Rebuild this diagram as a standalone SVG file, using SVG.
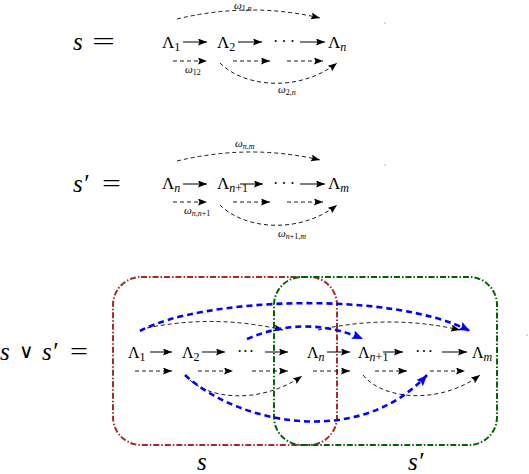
<svg xmlns="http://www.w3.org/2000/svg" width="529" height="474" viewBox="0 0 529 474">
<style>
.big{font-family:"Liberation Serif","DejaVu Serif",serif;font-size:25px;fill:#000}
.it{font-style:italic}
.vee{font-family:"DejaVu Sans","Liberation Sans",sans-serif;font-weight:200;font-size:20px;fill:#000}
.lam{font-family:"Liberation Serif","DejaVu Serif",serif;font-size:17px;fill:#000}
.lam3{font-family:"Liberation Serif","DejaVu Serif",serif;font-size:16px;fill:#000}
.sub{font-size:12px}
.w{font-family:"Liberation Serif","DejaVu Serif",serif;font-size:11px;font-style:italic;fill:#000}
.ws{font-size:8px;font-style:normal}
.dots{font-family:"Liberation Serif","DejaVu Serif",serif;font-size:16px;fill:#000}
.sol{fill:none;stroke:#000;stroke-width:1;marker-end:url(#ah)}
.dsh{fill:none;stroke:#000;stroke-width:0.9;stroke-dasharray:4 3;marker-end:url(#ah)}
.blu{fill:none;stroke:#0000ff;stroke-width:2.6;stroke-dasharray:6 4;marker-end:url(#bh)}
.red{fill:none;stroke:#a52a2a;stroke-width:2;stroke-dasharray:6 2 1.5 2}
.grn{fill:none;stroke:#006400;stroke-width:2;stroke-dasharray:6 2 1.5 2}
</style>
<defs>
<marker id="ah" markerUnits="userSpaceOnUse" markerWidth="11" markerHeight="8" refX="9" refY="3.5" orient="auto"><path d="M0,0 L9,3.5 L0,7 L1.5,3.5 z" fill="#000"/></marker>
<marker id="bh" markerUnits="userSpaceOnUse" markerWidth="13" markerHeight="10" refX="11" refY="4.5" orient="auto"><path d="M0,0 L11,4.5 L0,9 L2,4.5 z" fill="#0000ff"/></marker>
</defs>

<g id="row1">
<text class="big it" x="73" y="50">s</text>
<text class="big" x="92" y="50" textLength="23" lengthAdjust="spacingAndGlyphs">=</text>
<g id="r1-L1"><text class="lam" x="162" y="48">Λ<tspan class="sub" dy="3">1</tspan></text></g>
<g id="r1-L2"><text class="lam" x="217" y="48">Λ<tspan class="sub" dy="3">2</tspan></text></g>
<g id="r1-dots"><text class="dots" x="273" y="47" textLength="22" lengthAdjust="spacing">· · ·</text></g>
<g id="r1-Ln"><text class="lam" x="328" y="48">Λ<tspan class="sub it" dy="3">n</tspan></text></g>
<text class="w" x="234" y="9">ω<tspan class="ws" dy="2">1,<tspan class="it">n</tspan></tspan></text>
<text class="w" x="185" y="73">ω<tspan class="ws" dy="2">12</tspan></text>
<text class="w" x="278" y="93">ω<tspan class="ws" dy="2">2,<tspan class="it">n</tspan></tspan></text>
<circle cx="385" cy="23" r="0.6" fill="#666"/>
</g>

<g id="row2">
<text class="big it" x="73" y="192">s′</text>
<text class="big" x="102" y="192" textLength="19" lengthAdjust="spacingAndGlyphs">=</text>
<g id="r2-Ln"><text class="lam" x="162" y="189">Λ<tspan class="sub it" dy="3">n</tspan></text></g>
<g id="r2-Ln1"><text class="lam" x="217" y="189">Λ<tspan class="sub" dy="3"><tspan class="it">n</tspan>+1</tspan></text></g>
<g id="r2-dots"><text class="dots" x="273" y="189" textLength="22" lengthAdjust="spacing">· · ·</text></g>
<g id="r2-Lm"><text class="lam" x="328" y="189">Λ<tspan class="sub it" dy="3">m</tspan></text></g>
<text class="w" x="235" y="147">ω<tspan class="ws" dy="2"><tspan class="it">n</tspan>,<tspan class="it">m</tspan></tspan></text>
<text class="w" x="184" y="214">ω<tspan class="ws" dy="2"><tspan class="it">n</tspan>,<tspan class="it">n</tspan>+1</tspan></text>
<text class="w" x="278" y="237">ω<tspan class="ws" dy="2"><tspan class="it">n</tspan>+1,<tspan class="it">m</tspan></tspan></text>
<circle cx="385" cy="165" r="0.6" fill="#666"/>
</g>

<g id="boxes">
<rect id="box-s" class="red" x="113" y="277" width="224" height="168" rx="28" ry="28"/>
<rect id="box-s2" class="grn" x="274" y="277" width="223" height="168" rx="28" ry="28"/>
</g>

<g id="row3">
<text class="big it" x="0" y="360">s</text>
<text class="vee" x="19" y="358">∨</text>
<text class="big it" x="42" y="360">s′</text>
<text class="big" x="70" y="360" textLength="18" lengthAdjust="spacingAndGlyphs">=</text>
<g id="r3-L1"><text class="lam3" x="128" y="358">Λ<tspan class="sub" dy="3">1</tspan></text></g>
<g id="r3-L2"><text class="lam3" x="182" y="358">Λ<tspan class="sub" dy="3">2</tspan></text></g>
<g id="r3-dots1"><text class="dots" x="237" y="357" textLength="17" lengthAdjust="spacing">· · ·</text></g>
<g id="r3-Ln"><text class="lam3" x="307" y="358">Λ<tspan class="sub it" dy="3">n</tspan></text></g>
<g id="r3-Ln1"><text class="lam3" x="358" y="358">Λ<tspan class="sub" dy="3"><tspan class="it">n</tspan>+1</tspan></text></g>
<g id="r3-dots2"><text class="dots" x="415" y="357" textLength="18" lengthAdjust="spacing">· · ·</text></g>
<g id="r3-Lm"><text class="lam3" x="472" y="358">Λ<tspan class="sub it" dy="3">m</tspan></text></g>
<text class="big it" x="197" y="470">s</text>
<text class="big it" x="408" y="470">s′</text>
<circle cx="527" cy="335" r="0.6" fill="#666"/>
</g>

<g id="connectors">
<line class="sol" x1="183" y1="42" x2="207" y2="42"/>
<line class="sol" x1="238" y1="42" x2="262" y2="42"/>
<line class="sol" x1="300" y1="42" x2="325" y2="42"/>
<line class="dsh" x1="173" y1="61" x2="207" y2="61"/>
<line class="dsh" x1="233" y1="61" x2="270" y2="61"/>
<line class="dsh" x1="287" y1="61" x2="323" y2="61"/>
<path class="dsh" d="M177,19 Q250,1.5 320,18"/>
<path class="dsh" d="M220,63 C245,88 300,92 337,63"/>
<line class="sol" x1="183" y1="184" x2="207" y2="184"/>
<line class="sol" x1="240" y1="184" x2="263" y2="184"/>
<line class="sol" x1="300" y1="184" x2="325" y2="184"/>
<line class="dsh" x1="173" y1="202" x2="207" y2="202"/>
<line class="dsh" x1="233" y1="202" x2="270" y2="202"/>
<line class="dsh" x1="287" y1="202" x2="323" y2="202"/>
<path class="dsh" d="M177,161 Q250,143.5 320,160"/>
<path class="dsh" d="M220,205 C245,230 300,234 337,205"/>
<line class="sol" x1="150" y1="352" x2="172" y2="352"/>
<line class="sol" x1="202" y1="352" x2="225" y2="352"/>
<line class="sol" x1="265" y1="352" x2="288" y2="352"/>
<line class="sol" x1="327" y1="352" x2="350" y2="352"/>
<line class="sol" x1="383" y1="352" x2="403" y2="352"/>
<line class="sol" x1="442" y1="352" x2="467" y2="352"/>
<line class="dsh" x1="135" y1="371" x2="172" y2="371"/>
<line class="dsh" x1="198" y1="371" x2="233" y2="371"/>
<line class="dsh" x1="252" y1="371" x2="288" y2="371"/>
<line class="dsh" x1="313" y1="371" x2="350" y2="371"/>
<line class="dsh" x1="375" y1="371" x2="407" y2="371"/>
<line class="dsh" x1="430" y1="371" x2="465" y2="371"/>
<path class="dsh" d="M147,328 Q215,314 283,330"/>
<path class="dsh" d="M318,330 Q390,314 460,330"/>
<path class="dsh" d="M185,375 C205,400 260,405 302,376"/>
<path class="dsh" d="M363,375 C383,400 440,405 480,375"/>
<path class="blu" d="M140,331 C200,298 390,290 470,331"/>
<path class="blu" d="M247,339 Q305,314 363,339"/>
<path class="blu" d="M185,375 C240,425 360,448 427,375"/>
</g>
</svg>
